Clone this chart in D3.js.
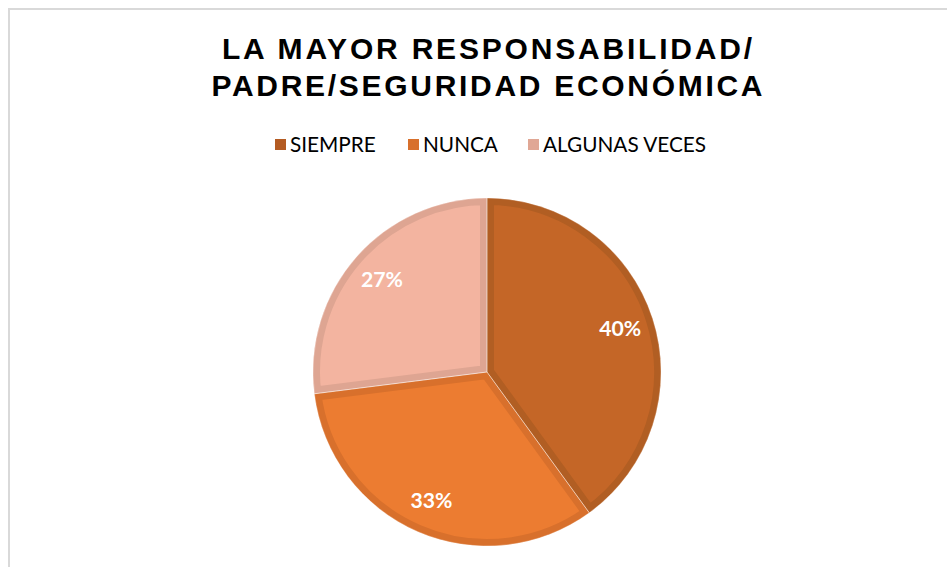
<!DOCTYPE html>
<html><head><meta charset="utf-8">
<script src="https://cdn.jsdelivr.net/npm/d3@7"></script>
<style>html,body{margin:0;padding:0;background:#fff;overflow:hidden}</style>
</head><body>
<svg id="c" width="947" height="567"></svg>
<script>
const titleLines = ["LA MAYOR RESPONSABILIDAD/", "PADRE/SEGURIDAD ECONÓMICA"];
const categories = ["SIEMPRE", "NUNCA", "ALGUNAS VECES"];
const values = [40, 33, 27];
const labels = ["40%", "33%", "27%"];
const fills = ["#C46627", "#EC7C31", "#F3B4A0"];
const borders = ["#B15E23", "#D8702C", "#DEA592"];
const legendFills = ["#B45B22", "#D8702C", "#E0A795"];

const FONT = "Lato, 'Open Sans', sans-serif";
const svg = d3.select("#c");
svg.append("rect").attr("x", 9).attr("y", 9).attr("width", 1000).attr("height", 1000)
  .attr("fill", "#fff").attr("stroke", "#d9d9d9").attr("stroke-width", 2);

const titleW = [530, 551];
titleLines.forEach((t, i) => {
  svg.append("text").attr("x", 487).attr("y", 59 + i * 37)
    .attr("text-anchor", "middle")
    .attr("font-family", "Liberation Sans, Arial, sans-serif")
    .attr("font-weight", "bold").attr("font-size", 30)
    .attr("textLength", titleW[i]).attr("lengthAdjust", "spacing")
    .attr("fill", "#000").text(t);
});

// legend
const legX = [275, 408, 528];
const lg = svg.append("g");
const legTexts = categories.map((c, i) => {
  lg.append("rect").attr("x", legX[i]).attr("y", 139).attr("width", 11).attr("height", 11)
    .attr("fill", legendFills[i]);
  return lg.append("text").attr("x", legX[i] + 15).attr("y", 152)
    .attr("font-family", FONT).attr("font-size", 20).attr("fill", "#000").text(c);
});
const measured = legTexts.reduce((s, t) => s + t.node().getComputedTextLength(), 0);
const legSize = 20 * (89 + 74 + 161) / measured;
legTexts.forEach(t => t.attr("font-size", legSize.toFixed(2)));

// pie
const cx = 487, cy = 372, R = 174;
const pie = d3.pie().sort(null).value(d => d)(values);
const arc = d3.arc().innerRadius(0).outerRadius(R);
const labelArc = d3.arc().innerRadius(140).outerRadius(140);
const g = svg.append("g").attr("transform", `translate(${cx},${cy})`);
const defs = svg.append("defs");
pie.forEach((p, i) => {
  defs.append("clipPath").attr("id", "clip" + i).append("path").attr("d", arc(p));
});
g.selectAll("path.slice").data(pie).join("path").attr("class", "slice")
  .attr("d", arc)
  .attr("fill", (d, i) => fills[i])
  .attr("stroke", (d, i) => borders[i])
  .attr("stroke-width", 14)
  .attr("clip-path", (d, i) => `url(#clip${i})`);
g.selectAll("path.sep").data(pie).join("path").attr("class", "sep")
  .attr("d", arc).attr("fill", "none")
  .attr("stroke", "#fff").attr("stroke-opacity", 0.35).attr("stroke-width", 1);
const lbls = g.selectAll("text.lbl").data(pie).join("text").attr("class", "lbl")
  .attr("transform", d => `translate(${labelArc.centroid(d)})`)
  .attr("text-anchor", "middle").attr("dy", "0.36em")
  .attr("font-family", FONT)
  .attr("font-weight", "bold").attr("font-size", 20).attr("fill", "#fff")
  .text((d, i) => labels[i]);
const lw = lbls.node().getComputedTextLength();
lbls.attr("font-size", (20 * 42 / lw).toFixed(2));
</script>
</body></html>
